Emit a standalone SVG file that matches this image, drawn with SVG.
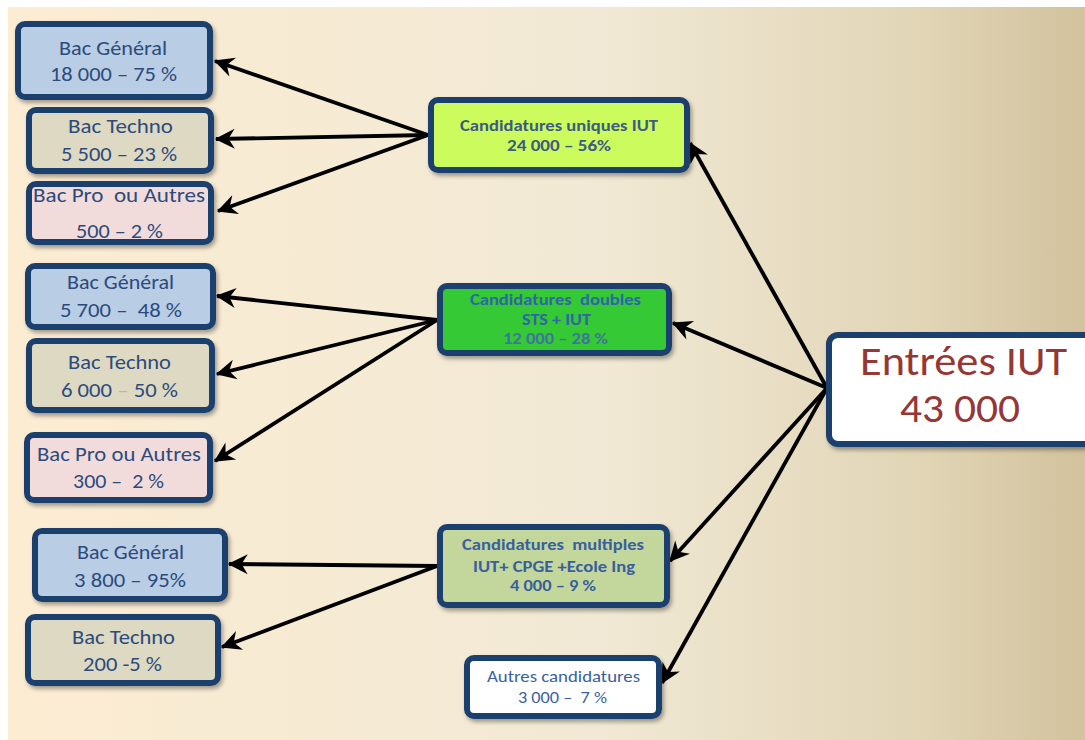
<svg xmlns="http://www.w3.org/2000/svg" width="1085" height="740" viewBox="0 0 1085 740">
<defs>
<linearGradient id="bg" x1="0" y1="0" x2="1" y2="0">
<stop offset="0" stop-color="#fcecd2"/>
<stop offset="0.55" stop-color="#f1e9d5"/>
<stop offset="0.85" stop-color="#e1d5b6"/>
<stop offset="1" stop-color="#d2c29d"/>
</linearGradient>
<filter id="sh" x="-10%" y="-10%" width="130%" height="140%">
<feDropShadow dx="2" dy="3" stdDeviation="2" flood-color="#000" flood-opacity="0.35"/>
</filter>
<marker id="ah" markerUnits="userSpaceOnUse" markerWidth="30" markerHeight="30" viewBox="-20 -12 24 24" refX="0" refY="0" orient="auto">
<path d="M1,0 L-15,-8 L-10,0 L-15,8 Z" fill="#000"/>
</marker>
<style>
.box{stroke:#1f3f6e;stroke-width:6;filter:url(#sh)}
.t{font-family:Carlito,Lato,"Liberation Sans",sans-serif;fill:#2c4b7c;text-anchor:middle;font-size:21px}
.m{font-family:Carlito,Lato,"Liberation Sans",sans-serif;fill:#3d5a86;text-anchor:middle;font-size:15.5px;font-weight:bold}
.a{fill:none;stroke:#000;stroke-width:3.8;marker-end:url(#ah)}
</style>
</defs>
<rect x="0" y="0" width="1085" height="740" fill="#fff"/>
<rect x="8" y="7" width="1077" height="733" fill="url(#bg)"/>

<g id="connectors">
<path class="a" d="M428,135 L215,61"/>
<path class="a" d="M428,135 L216,139"/>
<path class="a" d="M428,135 L218,211"/>
<path class="a" d="M437,320 L217,296"/>
<path class="a" d="M437,320 L217,374"/>
<path class="a" d="M437,320 L215,461"/>
<path class="a" d="M437,566 L229,564"/>
<path class="a" d="M437,566 L222,647"/>
<path class="a" d="M827,388 L690,143"/>
<path class="a" d="M827,388 L673,323"/>
<path class="a" d="M827,388 L670,561"/>
<path class="a" d="M827,388 L662,683"/>
</g>

<g id="bac-general-1">
<rect class="box" x="18" y="24" width="192" height="73" rx="7" fill="#b9cde5"/>
<text class="t" x="113" y="55" textLength="108" lengthAdjust="spacingAndGlyphs">Bac Général</text>
<text class="t" x="113.5" y="81" textLength="127" lengthAdjust="spacingAndGlyphs">18 000 – 75 %</text>
</g>
<g id="bac-techno-1">
<rect class="box" x="29" y="110" width="182" height="61" rx="7" fill="#ddd9c3"/>
<text class="t" x="120.5" y="133" textLength="105" lengthAdjust="spacingAndGlyphs">Bac Techno</text>
<text class="t" x="119" y="161" textLength="116" lengthAdjust="spacingAndGlyphs">5 500 – 23 %</text>
</g>
<g id="bac-pro-1">
<rect class="box" x="29" y="184" width="182" height="58" rx="7" fill="#f2dcdb"/>
<text class="t" x="119" y="202" textLength="172" lengthAdjust="spacingAndGlyphs" xml:space="preserve">Bac Pro  ou Autres</text>
<text class="t" x="119.5" y="238" textLength="87" lengthAdjust="spacingAndGlyphs">500 – 2 %</text>
</g>
<g id="candidatures-uniques">
<rect class="box" x="431" y="100" width="256" height="70" rx="7" fill="#ccfb5d"/>
<text class="m" x="559" y="131" textLength="198" lengthAdjust="spacingAndGlyphs">Candidatures uniques IUT</text>
<text class="m" x="559" y="151" textLength="104" lengthAdjust="spacingAndGlyphs">24 000 – 56%</text>
</g>
<g id="bac-general-2">
<rect class="box" x="28" y="266" width="185" height="61" rx="7" fill="#b9cde5"/>
<text class="t" x="120.5" y="289" textLength="107" lengthAdjust="spacingAndGlyphs">Bac Général</text>
<text class="t" x="121" y="317" textLength="122" lengthAdjust="spacingAndGlyphs" xml:space="preserve">5 700 –  48 %</text>
</g>
<g id="candidatures-doubles">
<rect class="box" x="440" y="286" width="229" height="67" rx="7" fill="#34c934"/>
<text class="m" x="555.5" y="305" style="fill:#2e66a6" textLength="171" lengthAdjust="spacingAndGlyphs" xml:space="preserve">Candidatures  doubles</text>
<text class="m" x="556.5" y="325" style="fill:#2e66a6" textLength="69" lengthAdjust="spacingAndGlyphs">STS + IUT</text>
<text class="m" x="555.5" y="344" style="fill:#3f74a0" textLength="105" lengthAdjust="spacingAndGlyphs">12 000 – 28 %</text>
</g>
<g id="bac-techno-2">
<rect class="box" x="29" y="341" width="183" height="69" rx="7" fill="#ddd9c3"/>
<text class="t" x="119.5" y="369" textLength="103" lengthAdjust="spacingAndGlyphs">Bac Techno</text>
<text class="t" x="119.5" y="397" textLength="117" lengthAdjust="spacingAndGlyphs">6 000 <tspan fill="#b8b8b0">–</tspan> 50 %</text>
</g>
<g id="bac-pro-2">
<rect class="box" x="27" y="435" width="183" height="65" rx="7" fill="#f2dcdb"/>
<text class="t" x="119" y="461" textLength="164" lengthAdjust="spacingAndGlyphs">Bac Pro ou Autres</text>
<text class="t" x="118.5" y="488" textLength="91" lengthAdjust="spacingAndGlyphs" xml:space="preserve">300 –  2 %</text>
</g>
<g id="entrees-iut">
<rect class="box" x="829" y="335" width="270" height="109" rx="9" fill="#fff"/>
<text x="963.5" y="375" textLength="207" lengthAdjust="spacingAndGlyphs" style="font-family:Carlito,Lato,'Liberation Sans',sans-serif;font-size:41px;fill:#953735;text-anchor:middle">Entrées IUT</text>
<text x="960" y="422" textLength="120" lengthAdjust="spacingAndGlyphs" style="font-family:Carlito,Lato,'Liberation Sans',sans-serif;font-size:41px;fill:#953735;text-anchor:middle">43 000</text>
</g>
<g id="bac-general-3">
<rect class="box" x="35" y="531" width="190" height="68" rx="7" fill="#b9cde5"/>
<text class="t" x="130.5" y="559" textLength="107" lengthAdjust="spacingAndGlyphs">Bac Général</text>
<text class="t" x="130" y="587" textLength="112" lengthAdjust="spacingAndGlyphs">3 800 – 95%</text>
</g>
<g id="candidatures-multiples">
<rect class="box" x="440" y="527" width="227" height="78" rx="7" fill="#c3d69b"/>
<text class="m" x="553" y="550" style="fill:#3a5f9e" textLength="182" lengthAdjust="spacingAndGlyphs" xml:space="preserve">Candidatures  multiples</text>
<text class="m" x="554" y="572" style="fill:#3a5f9e" textLength="162" lengthAdjust="spacingAndGlyphs">IUT+ CPGE +Ecole Ing</text>
<text class="m" x="553" y="591" style="fill:#3a5f9e" textLength="86" lengthAdjust="spacingAndGlyphs">4 000 – 9 %</text>
</g>
<g id="bac-techno-3">
<rect class="box" x="28" y="617" width="190" height="66" rx="7" fill="#ddd9c3"/>
<text class="t" x="123.5" y="644" textLength="103" lengthAdjust="spacingAndGlyphs">Bac Techno</text>
<text class="t" x="122.5" y="671" textLength="79" lengthAdjust="spacingAndGlyphs">200 -5 %</text>
</g>
<g id="autres-candidatures">
<rect class="box" x="467" y="658" width="192" height="58" rx="7" fill="#fff"/>
<text class="m" x="563.5" y="682" style="font-weight:normal;fill:#3a5f9e;font-size:16px" textLength="153" lengthAdjust="spacingAndGlyphs">Autres candidatures</text>
<text class="m" x="562.5" y="703" style="font-weight:normal;fill:#3a5f9e;font-size:16px" textLength="89" lengthAdjust="spacingAndGlyphs" xml:space="preserve">3 000 –  7 %</text>
</g>
</svg>
